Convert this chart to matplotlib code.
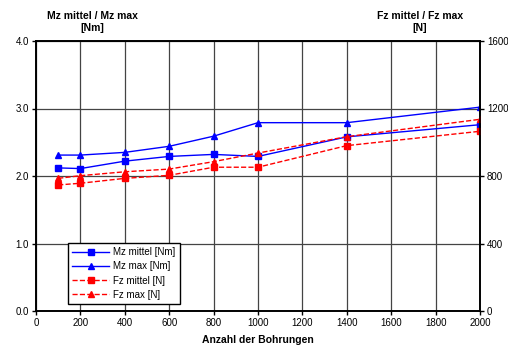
import numpy as np
import matplotlib.pyplot as plt

plt.rcParams['font.family'] = ['Liberation Sans', 'DejaVu Sans']
plt.rcParams['font.size'] = 7

bohrungen = [100, 200, 400, 600, 800, 1000, 1400, 2000]
mz_mittel = [2.12, 2.11, 2.22, 2.29, 2.32, 2.29, 2.58, 2.76]
mz_max = [2.31, 2.31, 2.35, 2.44, 2.59, 2.79, 2.79, 3.02]
fz_mittel = [747, 757, 786, 804, 852, 852, 980, 1065]
fz_max = [786, 802, 825, 841, 885, 936, 1033, 1136]

fig = plt.figure(figsize=(5.08, 3.47), dpi=100)
ax = fig.add_axes([36/508, 1 - 311/347, 444/508, 270/347])
ax2 = ax.twinx()

l1, = ax.plot(bohrungen, mz_mittel, color='blue', lw=1, marker='s', ms=4.5, label='Mz mittel [Nm]')
l2, = ax.plot(bohrungen, mz_max, color='blue', lw=1, marker='^', ms=4.5, label='Mz max [Nm]')
l3, = ax2.plot(bohrungen, fz_mittel, color='red', lw=1, ls='--', marker='s', ms=4.5, label='Fz mittel [N]')
l4, = ax2.plot(bohrungen, fz_max, color='red', lw=1, ls='--', marker='^', ms=4.5, label='Fz max [N]')

ax.set_xlim(0, 2000)
ax.set_ylim(0, 4)
ax2.set_ylim(0, 1600)
ax.set_xticks(np.arange(0, 2001, 200))
ax.set_yticks([0, 1, 2, 3, 4])
ax.set_yticklabels(['0.0', '1.0', '2.0', '3.0', '4.0'])
ax2.set_yticks([0, 400, 800, 1200, 1600])

ax.grid(True, color='#444444', lw=0.9)
ax.set_axisbelow(True)
for a in (ax, ax2):
    for s in a.spines.values():
        s.set_linewidth(1.2)
        s.set_color('black')
    a.tick_params(direction='out', length=3, width=1, pad=2)

ax.set_xlabel('Anzahl der Bohrungen', fontweight='bold', fontsize=7.5, labelpad=5)
fig.text(92/508, 1 - 22/347, 'Mz mittel / Mz max\n[Nm]', ha='center', va='center',
         fontweight='bold', fontsize=7.5, linespacing=1.25)
fig.text(420/508, 1 - 22/347, 'Fz mittel / Fz max\n[N]', ha='center', va='center',
         fontweight='bold', fontsize=7.5, linespacing=1.25)

leg = ax.legend(handles=[l1, l2, l3, l4], loc='lower left', bbox_to_anchor=(0.072, 0.026),
                borderaxespad=0, fancybox=False, edgecolor='black', framealpha=1,
                borderpad=0.45, handlelength=3.8, handletextpad=0.4,
                labelspacing=0.42, fontsize=7)
leg.get_frame().set_linewidth(1)

fig.savefig('out.png', dpi=100)
